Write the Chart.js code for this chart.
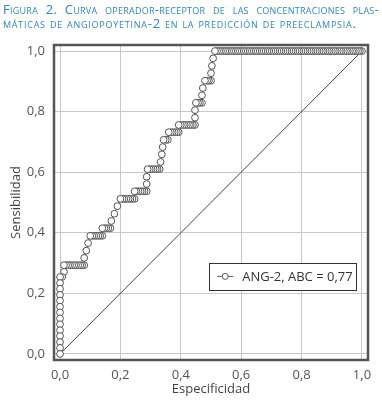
<!DOCTYPE html>
<html>
<head>
<meta charset="utf-8">
<script src="https://cdn.jsdelivr.net/npm/chart.js@4.4.1/dist/chart.umd.min.js"></script>
<style>
  body { margin: 0; background: #fff; }
  #wrap { position: relative; width: 382px; height: 402px; overflow: hidden; }
  #titulo { position: absolute; left: 3px; top: 3px; width: 376px; color: #2e86bd;
    font-family: "Open Sans", sans-serif; font-size: 13px; line-height: 13.5px; letter-spacing: 0.75px;
    font-variant: small-caps; }
  #titulo .l1 { text-align: justify; text-align-last: justify; letter-spacing: 0.25px; }
  canvas { position: absolute; left: 0; top: 0; }
</style>
</head>
<body>
<div id="wrap">
  <canvas id="roc" width="382" height="402"></canvas>
  <div id="titulo">
    <div class="l1">Figura 2. Curva operador-receptor de las concentraciones plas-</div>
    <div>máticas de angiopoyetina-2 en la predicción de preeclampsia.</div>
  </div>
</div>
<script>
// 1 - especificidad (eje x)
const fpr = [
  0, 0, 0, 0, 0, 0, 0, 0, 0, 0, 0, 0, 0, 0,
  0.007, 0.013, 0.013,
  0.020, 0.027, 0.033, 0.040, 0.047, 0.053, 0.060, 0.067, 0.073, 0.080,
  0.080, 0.087, 0.093,
  0.100, 0.107, 0.113, 0.120, 0.127, 0.133, 0.140,
  0.140, 0.147, 0.153, 0.160, 0.167,
  0.170, 0.180, 0.190,
  0.200, 0.207, 0.213, 0.220, 0.227, 0.233, 0.240, 0.247,
  0.247, 0.253, 0.260, 0.267, 0.273, 0.280, 0.287,
  0.287, 0.287,
  0.290, 0.297, 0.303, 0.310, 0.317, 0.323, 0.330,
  0.333, 0.337, 0.340,
  0.343, 0.350, 0.357,
  0.360, 0.367, 0.373, 0.380, 0.387, 0.393,
  0.393, 0.400, 0.407, 0.413, 0.420, 0.427, 0.433, 0.440, 0.447,
  0.447, 0.447,
  0.450, 0.457, 0.463, 0.470,
  0.470, 0.473,
  0.480, 0.487, 0.493, 0.500,
  0.500, 0.503, 0.507,
  0.513, 0.520, 0.527, 0.533, 0.540, 0.547, 0.553, 0.560, 0.567, 0.573,
  0.580, 0.587, 0.593, 0.600, 0.607, 0.613, 0.620, 0.627, 0.633, 0.640,
  0.647, 0.653, 0.660, 0.667, 0.673, 0.680, 0.687, 0.693, 0.700, 0.707,
  0.713, 0.720, 0.727, 0.733, 0.740, 0.747, 0.753, 0.760, 0.767, 0.773,
  0.780, 0.787, 0.793, 0.800, 0.807, 0.813, 0.820, 0.827, 0.833, 0.840,
  0.847, 0.853, 0.860, 0.867, 0.873, 0.880, 0.887, 0.893, 0.900, 0.907,
  0.913, 0.920, 0.927, 0.933, 0.940, 0.947, 0.953, 0.960, 0.967, 0.973,
  0.980, 0.987, 0.993, 1.000
];
// sensibilidad (eje y)
const sens = [
  0, 0.020, 0.039, 0.059, 0.078, 0.098, 0.117, 0.137, 0.156, 0.176, 0.195, 0.215, 0.234, 0.254,
  0.254, 0.271, 0.293,
  0.293, 0.293, 0.293, 0.293, 0.293, 0.293, 0.293, 0.293, 0.293, 0.293,
  0.317, 0.341, 0.366,
  0.390, 0.390, 0.390, 0.390, 0.390, 0.390, 0.390,
  0.415, 0.415, 0.415, 0.415, 0.415,
  0.439, 0.463, 0.488,
  0.512, 0.512, 0.512, 0.512, 0.512, 0.512, 0.512, 0.512,
  0.537, 0.537, 0.537, 0.537, 0.537, 0.537, 0.537,
  0.561, 0.585,
  0.610, 0.610, 0.610, 0.610, 0.610, 0.610, 0.610,
  0.634, 0.659, 0.683,
  0.707, 0.707, 0.707,
  0.732, 0.732, 0.732, 0.732, 0.732, 0.732,
  0.756, 0.756, 0.756, 0.756, 0.756, 0.756, 0.756, 0.756, 0.756,
  0.780, 0.805,
  0.829, 0.829, 0.829, 0.829,
  0.854, 0.878,
  0.902, 0.902, 0.902, 0.902,
  0.927, 0.951, 0.976,
  1, 1, 1, 1, 1, 1, 1, 1, 1, 1,
  1, 1, 1, 1, 1, 1, 1, 1, 1, 1,
  1, 1, 1, 1, 1, 1, 1, 1, 1, 1,
  1, 1, 1, 1, 1, 1, 1, 1, 1, 1,
  1, 1, 1, 1, 1, 1, 1, 1, 1, 1,
  1, 1, 1, 1, 1, 1, 1, 1, 1, 1,
  1, 1, 1, 1, 1, 1, 1, 1, 1, 1,
  1, 1, 1, 1
];
const diagX = [0, 1];
const diagY = [0, 1];
const ejeTicks = [0, 0.2, 0.4, 0.6, 0.8, 1.0];
const etiquetaSerie = "ANG-2, ABC = 0,77";

const gris = "#555";

// dibujada de (1,1) hacia (0,0) para que los círculos se solapen como en el original
const puntosRoc = fpr.map((x, i) => ({ x, y: sens[i] })).reverse();
const puntosDiag = diagX.map((x, i) => ({ x, y: diagY[i] }));

Chart.defaults.font.family = '"Open Sans", sans-serif';
Chart.defaults.font.size = 13;
Chart.defaults.color = gris;

const marco = {
  id: "marco",
  beforeDatasetsDraw(chart) {
    const { ctx, chartArea: a } = chart;
    ctx.save();
    ctx.strokeStyle = gris;
    ctx.lineWidth = 2.5;
    ctx.strokeRect(a.left, a.top, a.right - a.left, a.bottom - a.top);
    ctx.restore();
  }
};

const leyenda = {
  id: "leyenda",
  afterDraw(chart) {
    const { ctx } = chart;
    const sx = chart.scales.x, sy = chart.scales.y;
    const x0 = sx.getPixelForValue(0.494), x1 = sx.getPixelForValue(0.982);
    const y0 = sy.getPixelForValue(0.301), y1 = sy.getPixelForValue(0.211);
    ctx.save();
    ctx.fillStyle = "#fff";
    ctx.fillRect(x0, y0, x1 - x0, y1 - y0);
    ctx.strokeStyle = "#333";
    ctx.lineWidth = 1;
    ctx.strokeRect(Math.round(x0) + 0.5, Math.round(y0) + 0.5, Math.round(x1 - x0), Math.round(y1 - y0));
    const ym = (y0 + y1) / 2;
    ctx.strokeStyle = gris;
    ctx.beginPath();
    ctx.moveTo(x0 + 8, ym);
    ctx.lineTo(x0 + 24, ym);
    ctx.stroke();
    ctx.beginPath();
    ctx.arc(x0 + 16, ym, 3, 0, Math.PI * 2);
    ctx.fillStyle = "#fff";
    ctx.fill();
    ctx.stroke();
    ctx.fillStyle = "#333";
    ctx.font = '13px "Open Sans", sans-serif';
    ctx.textBaseline = "middle";
    ctx.fillText(etiquetaSerie, x0 + 33, ym + 0.5);
    ctx.restore();
  }
};

const fmt = v => v.toFixed(1).replace(".", ",");

new Chart(document.getElementById("roc"), {
  type: "scatter",
  data: {
    datasets: [
      {
        label: etiquetaSerie,
        data: puntosRoc,
        showLine: true,
        borderColor: gris,
        borderWidth: 1,
        pointRadius: 3.4,
        pointBackgroundColor: "#fff",
        pointBorderColor: gris,
        pointBorderWidth: 1
      },
      {
        label: "referencia",
        data: puntosDiag,
        showLine: true,
        borderColor: "#444",
        borderWidth: 1,
        pointRadius: 0
      }
    ]
  },
  options: {
    responsive: false,
    animation: false,
    layout: { padding: { top: 45, right: 14, left: 0, bottom: 0 } },
    plugins: { legend: { display: false }, tooltip: { enabled: false } },
    scales: {
      x: {
        type: "linear",
        min: -0.02,
        max: 1.02,
        afterBuildTicks: s => { s.ticks = ejeTicks.map(v => ({ value: v })); },
        afterFit: s => { s.height = 42; },
        ticks: { padding: 7, callback: fmt, color: gris },
        grid: { color: "#c8c8c8", drawTicks: false },
        border: { display: false },
        title: { display: true, text: "Especificidad", color: "#444", padding: { top: 0, bottom: 5 } }
      },
      y: {
        type: "linear",
        min: -0.02,
        max: 1.02,
        afterBuildTicks: s => { s.ticks = ejeTicks.map(v => ({ value: v })); },
        afterFit: s => { s.width = 54; },
        ticks: { padding: 9, callback: fmt, color: gris },
        grid: { color: "#c8c8c8", drawTicks: false },
        border: { display: false },
        title: { display: true, text: "Sensibilidad", color: "#444", padding: { top: 8, bottom: 0 } }
      }
    }
  },
  plugins: [marco, leyenda]
});
</script>
</body>
</html>
